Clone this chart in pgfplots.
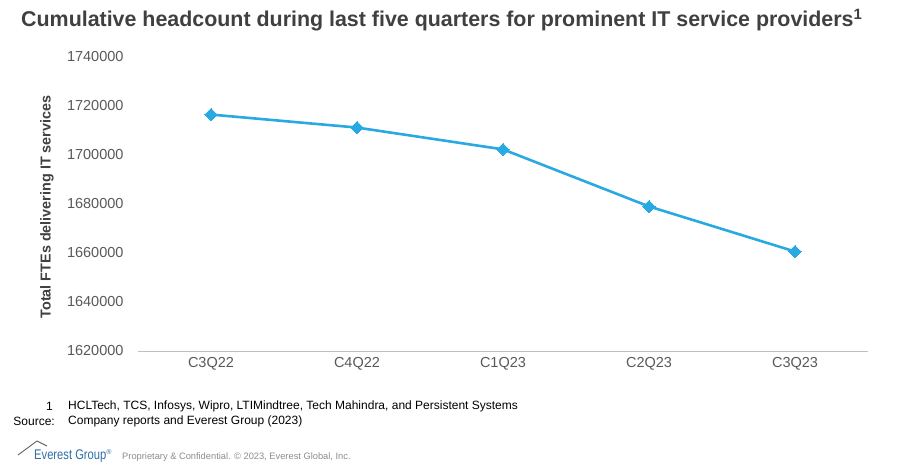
\documentclass[border=0pt]{standalone}
\usepackage{pgfplots}
\pgfplotsset{compat=1.18}
\usepackage{fontspec}
\setmainfont{Liberation Sans}
\definecolor{linec}{HTML}{29A9E1}
\definecolor{titlec}{HTML}{404040}
\definecolor{tickc}{HTML}{595959}
\definecolor{axisc}{HTML}{BFBFBF}
\definecolor{logoc}{HTML}{2F6EA8}
\definecolor{copyc}{HTML}{8C8C8C}
\begin{document}
\begin{tikzpicture}[x=1pt,y=1pt]
\useasboundingbox (0,0) rectangle (900,472);
\node[anchor=west,text=titlec,font=\fontsize{21.4}{24}\selectfont\bfseries,inner sep=0] at (21,452) {Cumulative headcount during last five quarters for prominent IT service providers\textsuperscript{1}};
\begin{axis}[
  at={(138pt,121pt)}, anchor=south west,
  scale only axis, width=730pt, height=294pt,
  xmin=-0.5, xmax=4.5,
  ymin=1620000, ymax=1740000,
  xtick={0,1,2,3,4},
  xticklabels={C3Q22,C4Q22,C1Q23,C2Q23,C3Q23},
  ytick={1620000,1640000,1660000,1680000,1700000,1720000,1740000},
  /pgf/number format/assume math mode=true,
  /pgf/number format/fixed,
  /pgf/number format/precision=0,
  /pgf/number format/set thousands separator={},
  scaled y ticks=false,
  axis x line*=bottom,
  axis y line*=left,
  x axis line style={draw=axisc,line width=0.9pt,-},
  y axis line style={draw=none},
  major tick length=0pt,
  tick style={draw=none},
  ticklabel style={font=\fontsize{14.5}{16}\selectfont,text=tickc},
  xticklabel style={yshift=-3pt},
  yticklabel style={xshift=-11pt},
  clip=false,
]
\addplot[color=linec,line width=2.6pt,mark=square*,mark size=4.3pt,mark options={fill=linec,line width=0pt,rotate=45}] coordinates {
  (0,1716500) (1,1711200) (2,1702300) (3,1679000) (4,1660600)
};
\end{axis}
\node[rotate=90,text=titlec,font=\fontsize{14.4}{16}\selectfont\bfseries,inner sep=0] at (47,265) {Total FTEs delivering IT services};
\node[anchor=east,font=\fontsize{12}{14}\selectfont,inner sep=0] at (53,66) {1};
\node[anchor=west,font=\fontsize{12}{14}\selectfont,inner sep=0] at (68,66) {HCLTech, TCS, Infosys, Wipro, LTIMindtree, Tech Mahindra, and Persistent Systems};
\node[anchor=east,font=\fontsize{12}{14}\selectfont,inner sep=0] at (55,51) {Source:};
\node[anchor=west,font=\fontsize{12}{14}\selectfont,inner sep=0] at (68,51) {Company reports and Everest Group (2023)};
\draw[draw=copyc!70!black,line width=0.9pt,line join=round] (18,17) -- (37,31) -- (47,26);
\node[anchor=west,text=logoc,font=\fontsize{14}{16}\selectfont,inner sep=0] at (34,16) {\scalebox{0.8}[1]{Everest Group}\textsuperscript{\fontsize{7}{8}\selectfont\textregistered}};
\node[anchor=west,text=copyc,font=\fontsize{9.3}{11}\selectfont,inner sep=0] at (122,15) {Proprietary \& Confidential. © 2023, Everest Global, Inc.};
\end{tikzpicture}
\end{document}
